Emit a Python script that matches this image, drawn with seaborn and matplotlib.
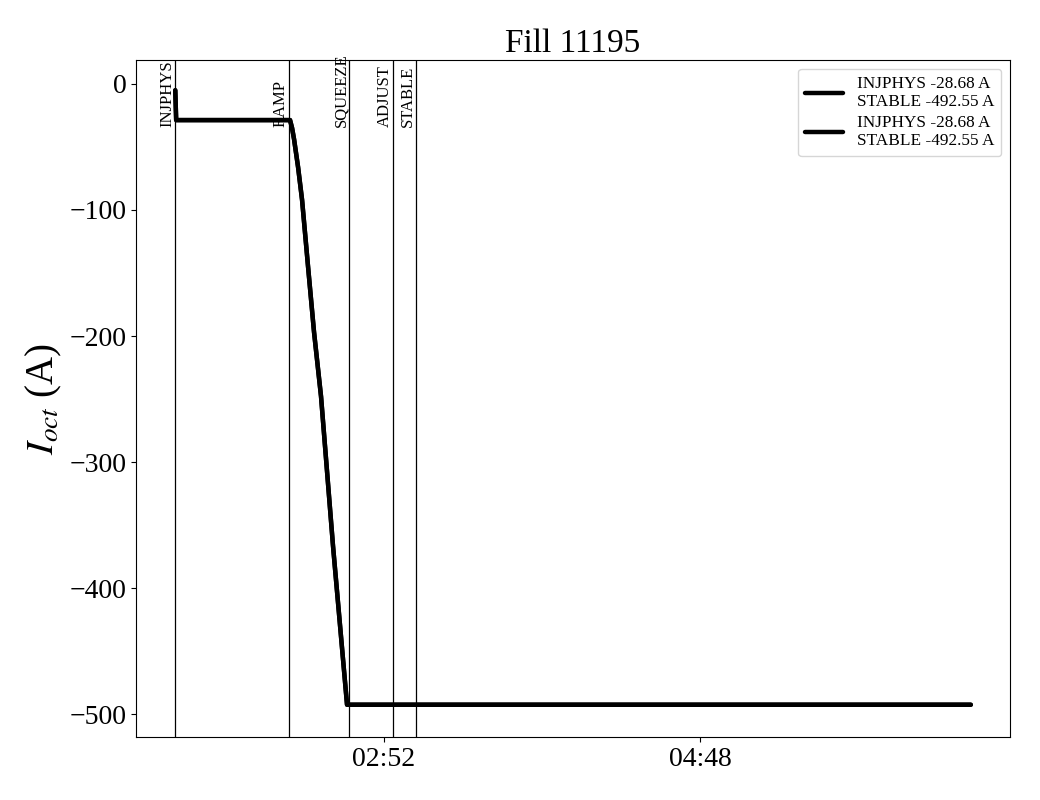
import pandas as pd
import numpy as np
import seaborn as sns
import matplotlib.pyplot as plt
import matplotlib.dates as mdates

# Data (times on an arbitrary day)
day = "2019-01-01 "
times = ["01:35:20", "01:35:40", "02:17:29", "02:18:14", "02:18:58", "02:19:42",
         "02:20:26", "02:21:10", "02:21:54", "02:24:06", "02:26:18", "02:28:52",
         "02:33:17", "02:38:25", "06:27:30"]
current = [-5.0, -28.68, -28.68, -35.0, -44.0, -55.0,
           -66.0, -79.0, -92.0, -145.0, -197.0, -248.0,
           -367.0, -492.55, -492.55]

modes = ["INJPHYS", "RAMP", "SQUEEZE", "ADJUST", "STABLE"]
mode_times = ["01:35:20", "02:17:05", "02:39:10", "02:55:20", "03:03:45"]

tick_times = ["02:52", "04:48"]
x_limits = ["01:21:00", "06:41:50"]
y_ticks = [0, -100, -200, -300, -400, -500]
legend_label = "INJPHYS -28.68 A\nSTABLE -492.55 A"

df = pd.DataFrame({"time": pd.to_datetime([day + t for t in times]), "I_oct": current})

sns.set_style("ticks", {"axes.edgecolor": "black", "text.color": "black",
                        "xtick.color": "black", "ytick.color": "black",
                        "axes.labelcolor": "black"})
plt.rcParams["font.family"] = ["Liberation Serif", "DejaVu Serif"]
plt.rcParams["mathtext.fontset"] = "stix"

fig, ax = plt.subplots(figsize=(10.4, 8), dpi=100)
fig.subplots_adjust(left=0.131, right=0.971, top=0.925, bottom=0.079)

# the original draws the same series twice
for _ in range(2):
    sns.lineplot(data=df, x="time", y="I_oct", color="black", linewidth=3.2,
                 label=legend_label, ax=ax)

for name, t in zip(modes, mode_times):
    x = pd.to_datetime(day + t)
    ax.axvline(x, color="black", linewidth=0.9)
    ax.text(x, -34, name, rotation=90, ha="right", va="bottom", fontsize=12)

ax.set_xlim(pd.to_datetime(day + x_limits[0]), pd.to_datetime(day + x_limits[1]))
ax.set_ylim(-518, 19)
ax.set_yticks(y_ticks)
ax.set_xticks([pd.to_datetime(day + t) for t in tick_times])
ax.xaxis.set_major_formatter(mdates.DateFormatter("%H:%M"))
ax.tick_params(labelsize=20)

ax.set_xlabel("")
ax.set_ylabel(r"$I_{oct}$ (A)", fontsize=28)
ax.set_title("Fill 11195", fontsize=24)
ax.legend(loc="upper right", fontsize=12.4, handlelength=2.2, labelspacing=0.3)

plt.savefig("out.png", dpi=100)
